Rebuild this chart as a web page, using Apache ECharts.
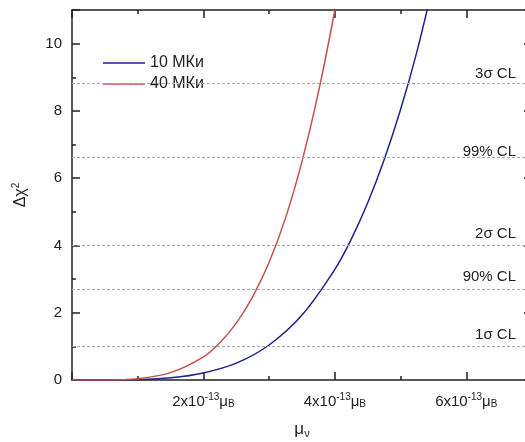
<!DOCTYPE html>
<html>
<head>
<meta charset="utf-8">
<script src="https://cdn.jsdelivr.net/npm/echarts@6/dist/echarts.min.js"></script>
<style>
  html, body { margin: 0; padding: 0; background: #fff; }
  #chart { width: 525px; height: 442px; }
</style>
</head>
<body>
<div id="chart"></div>
<script>
// mu in units of 1e-13 mu_B, delta chi^2
const mu10 = [0, 0.5, 1.0, 1.5, 2.0, 2.5, 3.0, 3.5, 4.0, 4.25, 4.5, 4.75, 5.0, 5.25, 5.5];
const chi10 = [0, 0.0, 0.01, 0.065, 0.21, 0.5, 1.04, 1.93, 3.29, 4.19, 5.27, 6.55, 8.04, 9.77, 11.8];

const mu40 = [0, 0.5, 1.0, 1.5, 2.0, 2.25, 2.5, 2.75, 3.0, 3.25, 3.5, 3.75, 4.0, 4.1];
const chi40 = [0, 0.0, 0.04, 0.22, 0.69, 1.11, 1.69, 2.48, 3.5, 4.82, 6.5, 8.56, 11.0, 12.2];

const clLevels = [1.0, 2.71, 4.0, 6.63, 8.83];
const clLabels = ["1σ CL", "90% CL", "2σ CL", "99% CL", "3σ CL"];
const clGaps = [4, 4, 4, -2, 2];

const seriesNames = ["10 МКи", "40 МКи"];

const FONT = "Liberation Sans";
const chart = echarts.init(document.getElementById("chart"));

const pairs = (xs, ys) => xs.map((x, i) => [x, ys[i]]);

const tickRich = {
  a: { fontSize: 15, color: "#222", fontFamily: FONT },
  sup: { fontSize: 10, color: "#222", fontFamily: FONT, padding: [0, 0, 9, 0] },
  sub: { fontSize: 10, color: "#222", fontFamily: FONT, padding: [6, 0, 0, 0] }
};

const lineStyleAxis = { color: "#222", width: 1.5 };
const tickStyle = () => ({ inside: true, length: 8, lineStyle: lineStyleAxis });
const minorStyle = () => ({ show: true, splitNumber: 2, length: 4, lineStyle: lineStyleAxis });

chart.setOption({
  animation: false,
  textStyle: { fontFamily: FONT },
  grid: { left: 72, top: 10, bottom: 62, right: -7, containLabel: false, outerBoundsMode: "none" },
  legend: {
    orient: "vertical",
    left: 100,
    top: 53,
    itemWidth: 42,
    itemHeight: 1.5,
    itemGap: 5,
    icon: "rect",
    padding: [2, 4, 2, 3],
    backgroundColor: "#fff",
    textStyle: { fontSize: 16, color: "#222", fontFamily: FONT },
    data: seriesNames
  },
  xAxis: [
    {
      type: "value",
      min: 0,
      max: 7,
      interval: 2,
      name: "{m|μ}{s|ν}",
      nameLocation: "middle",
      nameGap: 40,
      nameTextStyle: {
        rich: {
          m: { fontSize: 17, color: "#222", fontFamily: FONT },
          s: { fontSize: 11, color: "#222", fontFamily: FONT, padding: [8, 0, 0, 0] }
        }
      },
      axisLine: { onZero: false, lineStyle: lineStyleAxis },
      axisTick: tickStyle(),
      minorTick: minorStyle(),
      splitLine: { show: false },
      axisLabel: {
        margin: 12,
        rich: tickRich,
        formatter: v => (v === 0 || v > 6 ? "" : "{a|" + v + "x10}{sup|-13}{a|μ}{sub|B}")
      }
    },
    {
      type: "value",
      position: "top",
      min: 0,
      max: 7,
      interval: 2,
      axisLine: { onZero: false, lineStyle: lineStyleAxis },
      axisTick: tickStyle(),
      minorTick: minorStyle(),
      splitLine: { show: false },
      axisLabel: { show: false }
    }
  ],
  yAxis: [
    {
      type: "value",
      min: 0,
      max: 11,
      interval: 2,
      name: "Δχ{s|2}",
      nameLocation: "middle",
      nameGap: 42,
      nameTextStyle: {
        fontSize: 16,
        color: "#222",
        rich: {
          s: { fontSize: 10, color: "#222", fontFamily: FONT, padding: [0, 0, 9, 0] }
        }
      },
      axisLine: { onZero: false, lineStyle: lineStyleAxis },
      axisTick: tickStyle(),
      minorTick: minorStyle(),
      splitLine: { show: false },
      axisLabel: { fontSize: 15, color: "#222", margin: 10,
        formatter: v => (v > 10 ? "" : String(v)) }
    },
    {
      type: "value",
      position: "right",
      min: 0,
      max: 11,
      interval: 2,
      axisLine: { onZero: false, lineStyle: lineStyleAxis },
      axisTick: tickStyle(),
      minorTick: minorStyle(),
      splitLine: { show: false },
      axisLabel: { show: false }
    }
  ],
  series: [
    {
      name: seriesNames[0],
      type: "line",
      smooth: 0.3,
      symbol: "none",
      data: pairs(mu10, chi10),
      lineStyle: { color: "#22228a", width: 1.5 },
      itemStyle: { color: "#22228a" },
      z: 3,
      markLine: {
        silent: true,
        symbol: "none",
        animation: false,
        lineStyle: { color: "#aaa", type: [3, 2], width: 1 },
        data: clLevels.map((v, i) => ({
          yAxis: v,
          label: {
            show: true,
            position: "insideEndTop",
            formatter: clLabels[i],
            fontSize: 15,
            color: "#222",
            fontFamily: FONT,
            distance: [16, clGaps[i]]
          }
        }))
      }
    },
    {
      name: seriesNames[1],
      type: "line",
      smooth: 0.3,
      symbol: "none",
      data: pairs(mu40, chi40),
      lineStyle: { color: "#c4504c", width: 1.5 },
      itemStyle: { color: "#c4504c" },
      z: 3
    }
  ]
});
</script>
</body>
</html>
